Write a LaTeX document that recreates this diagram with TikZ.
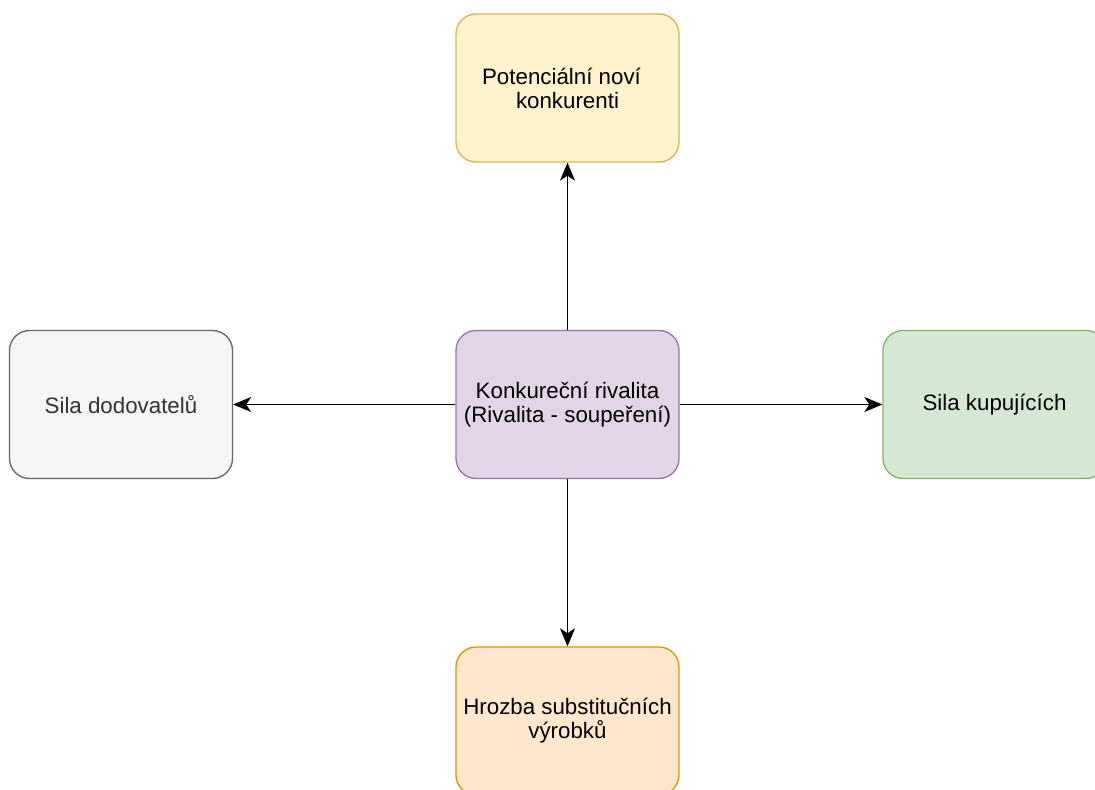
\documentclass[tikz,border=0pt]{standalone}
\usepackage{fontspec}
\setmainfont{Liberation Sans}
\usetikzlibrary{arrows.meta}
\definecolor{ylwfill}{HTML}{FFF2CC}\definecolor{ylwline}{HTML}{D6B656}
\definecolor{purfill}{HTML}{E1D5E7}\definecolor{purline}{HTML}{9673A6}
\definecolor{gryfill}{HTML}{F5F5F5}\definecolor{gryline}{HTML}{666666}\definecolor{grytext}{HTML}{333333}
\definecolor{grnfill}{HTML}{D5E8D4}\definecolor{grnline}{HTML}{82B366}
\definecolor{orgfill}{HTML}{FFE6CC}\definecolor{orgline}{HTML}{D79B00}
\tikzset{
	force/.style={draw, line width=0.75pt, rounded corners=0.4cm, minimum width=4.46cm, minimum height=2.96cm, align=center, font=\fontsize{12.7}{13.6}\selectfont},
	push/.style={-{Stealth[length=3.6mm, width=3mm, inset=1mm]}, line width=0.8pt}
}

\begin{document}
\begin{tikzpicture}
		%%%%% START %%%%%
		
		\useasboundingbox[fill=white] (0, 0) rectangle (21.9, -15.8);
		
		\node[force, fill=purfill, draw=purline] (rival) at (11.35, -8.09) {Konkureční rivalita\\(Rivalita - soupeření)};
		
		\node[force, fill=ylwfill, draw=ylwline] (novi) at (11.35, -1.76) {Potenciální noví\hspace*{0.24cm}\\konkurenti};
		\node[force, fill=gryfill, draw=gryline, text=grytext] (dodav) at (2.42, -8.09) {Sila dodovatelů};
		\node[force, fill=grnfill, draw=grnline] (kupuj) at (19.89, -8.09) {Sila kupujících};
		\node[force, fill=orgfill, draw=orgline] (subst) at (11.35, -14.42) {Hrozba substitučních\\výrobků};
		
		\draw[push] (rival) -- (novi);
		\draw[push] (rival) -- (dodav);
		\draw[push] (rival) -- (kupuj);
		\draw[push] (rival) -- (subst);
		
		%%%%% END %%%%%
	\end{tikzpicture}
\end{document}
